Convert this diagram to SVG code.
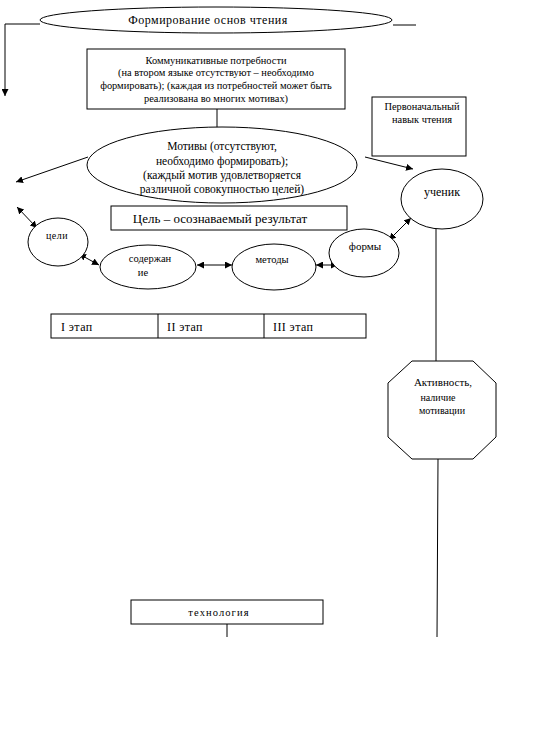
<svg xmlns="http://www.w3.org/2000/svg" width="533" height="746" viewBox="0 0 533 746">
<style>
.s{fill:#fff;stroke:#000;stroke-width:1}
.l{fill:none;stroke:#000;stroke-width:1}
text{font-family:"Liberation Serif","Times New Roman",serif;fill:#000;text-anchor:middle}
.f9{font-size:9px}
.f10{font-size:10.4px}
.f11{font-size:11.5px}
.f12{font-size:12px}
.sm{font-size:10.5px}
.st{text-anchor:start}
</style>
<defs>
<marker id="ah" viewBox="0 0 10 10" refX="10" refY="5" markerWidth="7" markerHeight="7" markerUnits="userSpaceOnUse" orient="auto-start-reverse">
<path d="M0,0 L10,5 L0,10 z" fill="#000"/>
</marker>
</defs>
<rect width="533" height="746" fill="#fff"/>
<g id="connectors">
<polyline class="l" points="40,24 5,24 5,96" marker-end="url(#ah)"/>
<line class="l" x1="393" y1="25" x2="416" y2="25"/>
<line class="l" x1="217" y1="109" x2="217" y2="130"/>
<line class="l" x1="88" y1="157" x2="16" y2="182" marker-end="url(#ah)"/>
<line class="l" x1="365" y1="157" x2="413" y2="169" marker-end="url(#ah)"/>
<line class="l" x1="17" y1="207" x2="37" y2="228" marker-start="url(#ah)" marker-end="url(#ah)"/>
<line class="l" x1="79" y1="254" x2="99" y2="265" marker-start="url(#ah)" marker-end="url(#ah)"/>
<line class="l" x1="197" y1="265" x2="232" y2="265" marker-start="url(#ah)" marker-end="url(#ah)"/>
<line class="l" x1="316" y1="265" x2="338" y2="265" marker-start="url(#ah)" marker-end="url(#ah)"/>
<line class="l" x1="389" y1="240" x2="411" y2="218" marker-start="url(#ah)" marker-end="url(#ah)"/>
<line class="l" x1="436" y1="229" x2="436" y2="361"/>
<line class="l" x1="438" y1="459" x2="437" y2="637"/>
<line class="l" x1="227" y1="624" x2="227" y2="637"/>
</g>
<g id="title">
<ellipse class="s" cx="216" cy="20" rx="176" ry="13"/>
<text x="208" y="24" style="font-size:12px;letter-spacing:0.5px">Формирование основ чтения</text>
</g>
<g id="needs">
<rect class="s" x="87" y="49" width="258" height="60"/>
<text class="f10" x="216" y="64">Коммуникативные потребности</text>
<text class="f10" x="216" y="76">(на втором языке отсутствуют – необходимо</text>
<text class="f10" x="216" y="89">формировать); (каждая из потребностей может быть</text>
<text class="f10" x="216" y="102">реализована во многих мотивах)</text>
</g>
<g id="skill">
<rect class="s" x="372" y="97" width="94" height="59"/>
<text class="f10" x="422" y="110">Первоначальный</text>
<text class="f10" x="422" y="123">навык чтения</text>
</g>
<g id="motives">
<ellipse class="s" cx="222" cy="165" rx="135" ry="38"/>
<text class="f11" x="222" y="150">Мотивы (отсутствуют,</text>
<text class="f11" x="222" y="165">необходимо формировать);</text>
<text class="f11" x="222" y="179">(каждый мотив удовлетворяется</text>
<text class="f11" x="222" y="193">различной совокупностью целей)</text>
</g>
<g id="student">
<ellipse class="s" cx="442" cy="199" rx="41" ry="30"/>
<text x="442" y="196" style="font-size:12px">ученик</text>
</g>
<g id="goal">
<rect class="s" x="111" y="206" width="236" height="24"/>
<text x="220" y="223" style="font-size:13px">Цель – осознаваемый результат</text>
</g>
<g id="goals">
<ellipse class="s" cx="58" cy="242" rx="30" ry="24"/>
<text x="57" y="239" style="font-size:10px;letter-spacing:0.5px">цели</text>
</g>
<g id="content">
<ellipse class="s" cx="148" cy="267" rx="48" ry="22"/>
<text class="sm" x="150" y="262">содержан</text>
<text class="sm" x="143" y="276">ие</text>
</g>
<g id="methods">
<ellipse class="s" cx="274" cy="267" rx="42" ry="23"/>
<text class="sm" x="272" y="263">методы</text>
</g>
<g id="forms">
<ellipse class="s" cx="364" cy="253" rx="35" ry="24"/>
<text x="365" y="250" style="font-size:11px">формы</text>
</g>
<g id="stages">
<rect class="s" x="51" y="314" width="315" height="24"/>
<line class="l" x1="158" y1="314" x2="158" y2="338"/>
<line class="l" x1="264" y1="314" x2="264" y2="338"/>
<text class="st" x="61" y="331" style="font-size:12px;letter-spacing:0.4px">I этап</text>
<text class="st" x="167" y="331" style="font-size:12px;letter-spacing:0.4px">II этап</text>
<text class="st" x="273" y="331" style="font-size:12px;letter-spacing:0.4px">III этап</text>
</g>
<g id="activity">
<polygon class="s" points="412,361 473,361 496,383 496,437 473,459 412,459 388,437 388,383"/>
<text x="443" y="386" style="font-size:11px">Активность,</text>
<text x="438" y="401" style="font-size:10px">наличие</text>
<text x="442" y="414" style="font-size:10px">мотивации</text>
</g>
<g id="technology">
<rect class="s" x="131" y="600" width="192" height="24"/>
<text x="219" y="616" style="font-size:10.5px;letter-spacing:1.1px">технология</text>
</g>
</svg>
